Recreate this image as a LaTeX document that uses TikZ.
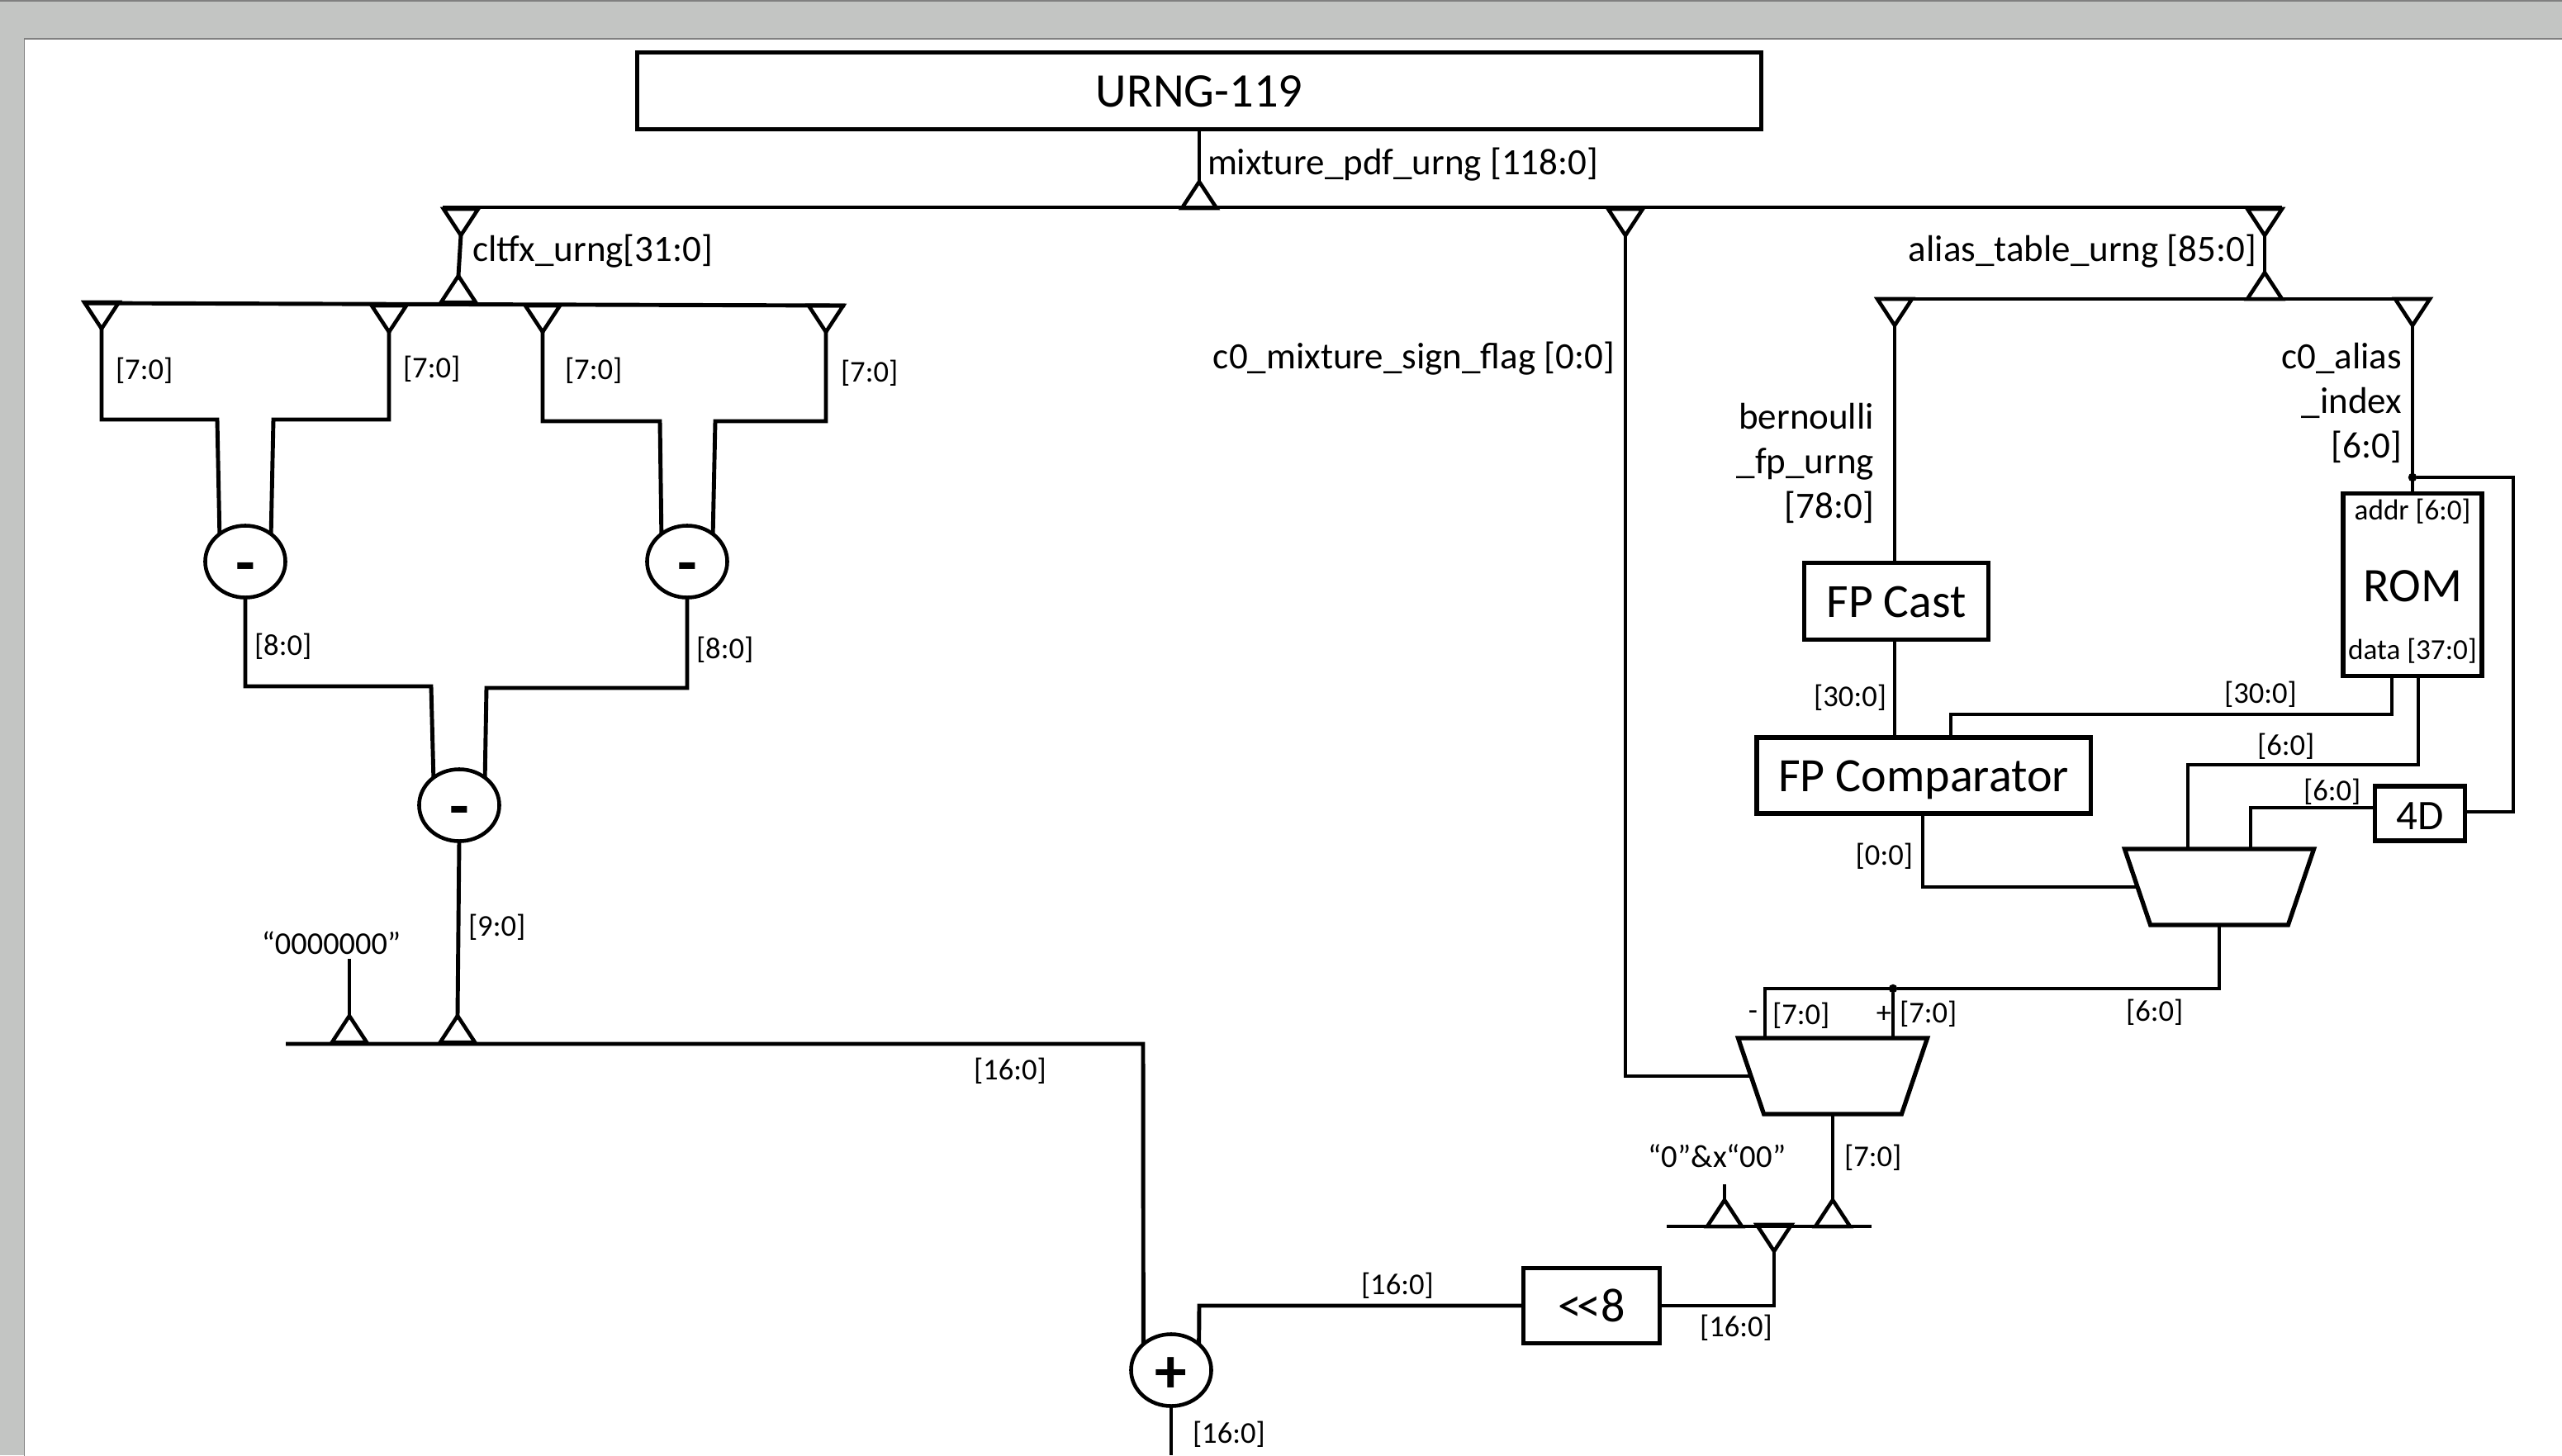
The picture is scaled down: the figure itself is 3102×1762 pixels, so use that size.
\documentclass[tikz,border=0pt]{standalone}
\usepackage{fontspec}
\setmainfont{Carlito}
\usetikzlibrary{shapes.geometric}
\tikzset{
    urngwire/.style={draw, line width=1.4pt, line join=miter},
    urngbox/.style={draw, rectangle, line width=1.5pt, inner sep=0pt, outer sep=0pt, align=center, text height=0.38cm, text depth=0pt},
    urngop/.style={draw, ellipse, line width=1.3pt, inner sep=0pt, outer sep=0pt, minimum width=0.97cm, minimum height=0.87cm, text height=0.54cm, text depth=0pt, font=\fontsize{22}{22}\selectfont\bfseries},
    urngmux/.style={draw, trapezium, trapezium stretches=true, shape border rotate=180, trapezium left angle=76, trapezium right angle=76, line width=1.5pt, inner sep=0pt, outer sep=0pt, minimum width=2.29cm, minimum height=0.92cm},
    urngtapup/.style={draw, isosceles triangle, isosceles triangle stretches=true, shape border rotate=90, anchor=apex, line width=1.3pt, inner sep=0pt, outer sep=0pt, minimum width=0.42cm, minimum height=0.32cm},
    urngtapdown/.style={draw, isosceles triangle, isosceles triangle stretches=true, shape border rotate=-90, anchor=apex, line width=1.3pt, inner sep=0pt, outer sep=0pt, minimum width=0.42cm, minimum height=0.32cm},
    urngdot/.style={draw, circle, fill=black, minimum size=0.09cm, inner sep=0pt, outer sep=0pt},
    urnglabel/.style={inner sep=0pt, outer sep=0pt, yshift=-0.02cm, font=\fontsize{10.4}{14}\selectfont},
    urngname/.style={inner sep=0pt, outer sep=0pt, yshift=-0.03cm, align=right, font=\fontsize{12.8}{15.4}\selectfont}
}

\begin{document}
\begin{tikzpicture}[x=0.01cm, y=-0.01cm]
    \useasboundingbox (0,0) rectangle (3102,1762);
    \fill[fill={rgb,255:red,195;green,197;blue,195}] (0,0) rectangle (3102,1762);
    \draw[gray, line width=0.6pt] (0,1) -- (3102,1);
    \draw[gray, line width=0.4pt, fill=white] (3200,47) -| (29.5,1800) -- (3200,1800) -- cycle;

    \node[urngbox, minimum width=13.6cm, minimum height=0.93cm, font=\fontsize{16.6}{18}\selectfont] (urng) at (1452,110) {URNG-119};

    \node[urngtapup] (tapmain) at (1452,220) {};
    \node[urngtapdown] (tapclt) at (558,285) {};
    \node[urngtapdown] (tapsign) at (1968,285) {};
    \node[urngtapdown] (tapalias) at (2742,285) {};
    \coordinate (busal) at (536,251);
    \coordinate (busar) at (2763,251);
    \draw[urngwire] (busal) -- (busar);
    \draw[urngwire] (urng.south) -- (tapmain.apex);
    \node[urngname, anchor=west] (lblmix) at (1462,196) {mixture\_pdf\_urng [118:0]};
    \node[urngname, anchor=west] (lblclt) at (572,301) {cltfx\_urng[31:0]};
    \node[urngname, anchor=east] (lblalias) at (2732,301) {alias\_table\_urng [85:0]};
    \node[urngname, anchor=east] (lblsign) at (1955,431) {c0\_mixture\_sign\_flag [0:0]};

    \node[urngtapup] (tapb) at (555,334) {};
    \coordinate (busbl) at (102,367);
    \coordinate (busbr) at (1023,370);
    \draw[urngwire] (busbl) -- (busbr);
    \draw[urngwire] (tapclt.apex) -- (tapb.apex);
    \node[urngtapdown] (tapa0) at (123,398) {};
    \node[urngtapdown] (tapa1) at (471,402) {};
    \node[urngtapdown] (tapa2) at (657,402) {};
    \node[urngtapdown] (tapa3) at (1000,402) {};

    \node[urngop] (suba) at (297,680) {-};
    \node[urngop] (subb) at (832,680) {-};
    \node[urngop] (subc) at (556,975) {-};
    \coordinate (kneea0) at (263,508);
    \coordinate (kneea1) at (331,508);
    \coordinate (kneea2) at (799,510);
    \coordinate (kneea3) at (866,510);
    \coordinate (kneeb0) at (522,831);
    \coordinate (kneeb1) at (589,833);
    \draw[urngwire] (tapa0.apex) |- (kneea0) -- (suba.133);
    \draw[urngwire] (tapa1.apex) |- (kneea1) -- (suba.47);
    \draw[urngwire] (tapa2.apex) |- (kneea2) -- (subb.133);
    \draw[urngwire] (tapa3.apex) |- (kneea3) -- (subb.47);
    \draw[urngwire] (suba.south) |- (kneeb0) -- (subc.133);
    \draw[urngwire] (subb.south) |- (kneeb1) -- (subc.47);
    \node[urnglabel, anchor=west] (lbla0) at (140,447) {[7:0]};
    \node[urnglabel, anchor=west] (lbla1) at (488,445) {[7:0]};
    \node[urnglabel, anchor=west] (lbla2) at (684,447) {[7:0]};
    \node[urnglabel, anchor=west] (lbla3) at (1018,450) {[7:0]};
    \node[urnglabel, anchor=west] (lblb0) at (308,781) {[8:0]};
    \node[urnglabel, anchor=west] (lblb1) at (843,785) {[8:0]};
    \node[urnglabel, anchor=west] (lblc) at (567,1121) {[9:0]};

    \node[urngtapup] (tapc0) at (423,1230) {};
    \node[urngtapup] (tapc1) at (554,1230) {};
    \coordinate (stemzero) at (423,1161);
    \coordinate (busc) at (346,1264);
    \node[urngop] (addr) at (1418,1659) {+};
    \coordinate (kneec) at (1384,1264);
    \draw[urngwire] (stemzero) -- (tapc0.apex);
    \draw[urngwire] (subc.south) -- (tapc1.apex);
    \draw[urngwire] (busc) -- (kneec) -- (addr.137);
    \node[urnglabel, anchor=south, font=\fontsize{10.9}{14}\selectfont] (lblzero) at (401,1154) {“0000000”};
    \node[urnglabel, anchor=west] (lblbusc) at (1179,1295) {[16:0]};

    \node[urngtapdown] (tapbern) at (2294,394) {};
    \node[urngtapdown] (tapidx) at (2921,394) {};
    \node[urngtapup] (tapd) at (2742,330) {};
    \coordinate (busdl) at (2272,362);
    \coordinate (busdr) at (2942,362);
    \draw[urngwire] (busdl) -- (busdr);
    \draw[urngwire] (tapalias.apex) -- (tapd.apex);
    \node[urngname, anchor=east] (lblbern) at (2269,558) {bernoulli\\\_fp\_urng\\{}[78:0]};
    \node[urngname, anchor=east] (lblidx) at (2908,485) {c0\_alias\\\_index\\{}[6:0]};

    \node[urngbox, minimum width=2.23cm, minimum height=0.93cm, font=\fontsize{16.4}{18}\selectfont] (cast) at (2296,728) {FP Cast};
    \node[urngbox, minimum width=4.04cm, minimum height=0.92cm, font=\fontsize{16.5}{18}\selectfont] (comp) at (2329,939) {FP Comparator};
    \node[urngbox, minimum width=1.68cm, minimum height=2.21cm] (rom) at (2921,708) {};
    \node[font=\fontsize{16.6}{18}\selectfont, inner sep=0pt] (romname) at (2921,710) {ROM};
    \node[urnglabel, font=\fontsize{10}{12}\selectfont] (romaddr) at (2921,617) {addr [6:0]};
    \node[urnglabel, font=\fontsize{10}{12}\selectfont] (romdata) at (2921,786) {data [37:0]};
    \node[urngbox, minimum width=1.09cm, minimum height=0.66cm, font=\fontsize{14.5}{18}\selectfont] (delay) at (2930,985) {4D};
    \node[urngmux] (muxa) at (2687,1074) {\phantom{M}};
    \node[urngmux] (muxb) at (2219,1303) {\phantom{M}};
    \node[urngdot] (dotidx) at (2921,578) {};
    \node[urngdot] (dotsel) at (2292,1197) {};

    \coordinate (compin) at (2362,893);
    \coordinate (romoa) at (2896,818);
    \coordinate (romob) at (2928,818);
    \coordinate (muxaa) at (2649,1028);
    \coordinate (muxab) at (2725,1028);
    \coordinate (delayin) at (2876,978);
    \coordinate (compout) at (2328,985);
    \coordinate (muxba) at (2137,1257);
    \coordinate (muxbb) at (2292,1257);
    \coordinate (loop) at (3043,578);
    \coordinate (delayout) at (2985,983);
    \coordinate (kneerom) at (2362,865);
    \coordinate (kneeromb) at (2649,926);
    \coordinate (kneeidx) at (2137,1197);
    \draw[urngwire] (tapbern.apex) -- (cast.north -| tapbern.apex);
    \draw[urngwire] (cast.south -| tapbern.apex) -- (comp.north -| tapbern.apex);
    \draw[urngwire] (tapidx.apex) -- (rom.north);
    \draw[urngwire] (dotidx) -- (loop) |- (delayout);
    \draw[urngwire] (romoa) |- (kneerom) -- (compin);
    \draw[urngwire] (romob) |- (kneeromb) -- (muxaa);
    \draw[urngwire] (delayin) -| (muxab);
    \draw[urngwire] (compout) |- (muxa.west);
    \draw[urngwire] (muxa.south) |- (dotsel);
    \draw[urngwire] (dotsel) -- (muxbb);
    \draw[urngwire] (dotsel) -- (kneeidx) -- (muxba);
    \draw[urngwire] (tapsign.apex) |- (muxb.west);
    \node[urnglabel, anchor=east] (lblcast) at (2284,843) {[30:0]};
    \node[urnglabel, anchor=west] (lblrom) at (2693,839) {[30:0]};
    \node[urnglabel, anchor=west] (lblroma) at (2733,902) {[6:0]};
    \node[urnglabel, anchor=west] (lbldelay) at (2789,957) {[6:0]};
    \node[urnglabel, anchor=east] (lblcomp) at (2316,1035) {[0:0]};
    \node[urnglabel, anchor=west] (lblmuxa) at (2574,1224) {[6:0]};
    \node[urnglabel, anchor=east] (lblminus) at (2128,1228) {-};
    \node[urnglabel, anchor=west] (lblmuxb) at (2146,1228) {[7:0]};
    \node[urnglabel, anchor=east] (lblplus) at (2290,1226) {+};
    \node[urnglabel, anchor=west] (lblmuxc) at (2300,1226) {[7:0]};

    \node[urngbox, minimum width=1.65cm, minimum height=0.91cm, font=\fontsize{16.5}{18}\selectfont] (shift) at (1927,1581) {<\kern-1.5pt<8};
    \node[urngtapup] (tape0) at (2088,1453) {};
    \node[urngtapup] (tape1) at (2219,1453) {};
    \node[urngtapdown] (tape2) at (2148,1515) {};
    \coordinate (buscl) at (2018,1485);
    \coordinate (buscr) at (2266,1485);
    \coordinate (stemzerob) at (2088,1434);
    \coordinate (kneeshift) at (1452,1581);
    \coordinate (addrout) at (1418,1762);
    \draw[urngwire] (buscl) -- (buscr);
    \draw[urngwire] (stemzerob) -- (tape0.apex);
    \draw[urngwire] (muxb.south -| tape1.apex) -- (tape1.apex);
    \draw[urngwire] (tape2.apex) |- (shift.east);
    \draw[urngwire] (shift.west) -- (kneeshift) -- (addr.43);
    \draw[urngwire] (addr.south) -- (addrout);
    \node[urnglabel, anchor=west] (lblsum) at (2233,1400) {[7:0]};
    \node[urnglabel, anchor=center, font=\fontsize{11}{14}\selectfont] (lblconst) at (2079,1398) {“0”\&x“00”};
    \node[urnglabel, anchor=west] (lblshifta) at (1648,1555) {[16:0]};
    \node[urnglabel, anchor=west] (lblshiftb) at (2058,1606) {[16:0]};
    \node[urnglabel, anchor=west] (lbladdr) at (1444,1735) {[16:0]};
\end{tikzpicture}
\end{document}
